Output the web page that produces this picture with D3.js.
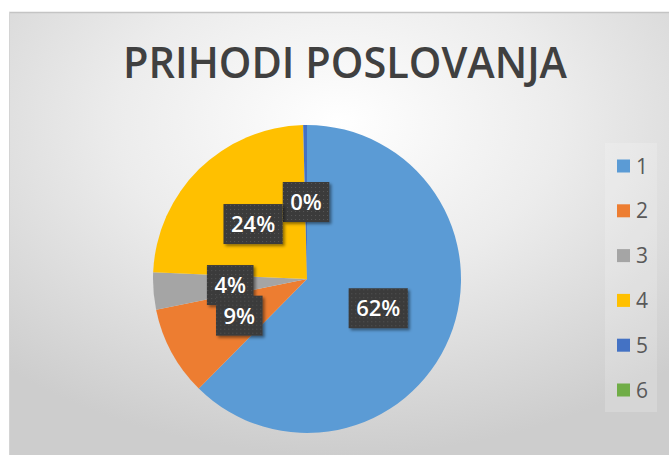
<!DOCTYPE html>
<html>
<head>
<meta charset="utf-8">
<script src="https://cdn.jsdelivr.net/npm/d3@7"></script>
<style>
  html, body { margin: 0; padding: 0; background: #ffffff; }
  svg { display: block; }
</style>
</head>
<body>
<svg id="chart" width="669" height="455"></svg>
<script>
const title = "PRIHODI POSLOVANJA";
const categories = ["1", "2", "3", "4", "5", "6"];
const values = [62.4, 9.4, 3.9, 23.9, 0.4, 0];
const colors = ["#5B9BD5", "#ED7D31", "#A5A5A5", "#FFC000", "#4472C4", "#70AD47"];

const svg = d3.select("#chart");
const W = 669, H = 455;
const defs = svg.append("defs");

// background gradient
const rg = defs.append("radialGradient").attr("id", "bg")
  .attr("cx", "50%").attr("cy", "25%").attr("r", "75%")
  .attr("fx", "50%").attr("fy", "25%");
rg.append("stop").attr("offset", "0%").attr("stop-color", "#ffffff");
rg.append("stop").attr("offset", "45%").attr("stop-color", "#ececec");
rg.append("stop").attr("offset", "100%").attr("stop-color", "#cdcdcd");

// label pattern
const pat = defs.append("pattern").attr("id", "dots")
  .attr("width", 4).attr("height", 4).attr("patternUnits", "userSpaceOnUse");
pat.append("rect").attr("width", 4).attr("height", 4).attr("fill", "#3b3b3b");
pat.append("rect").attr("x", 1).attr("y", 1).attr("width", 1).attr("height", 1).attr("fill", "#555555");

const sh = defs.append("filter").attr("id", "shadow")
  .attr("x", "-20%").attr("y", "-20%").attr("width", "150%").attr("height", "150%");
sh.append("feDropShadow").attr("dx", 2).attr("dy", 2).attr("stdDeviation", 1.5)
  .attr("flood-color", "#000").attr("flood-opacity", 0.45);

// chart area
svg.append("rect").attr("x", 9).attr("y", 12).attr("width", W - 9).attr("height", H - 12)
  .attr("fill", "url(#bg)");
svg.append("line").attr("x1", 9).attr("x2", W).attr("y1", 12.5).attr("y2", 12.5)
  .attr("stroke", "#c4c4c4").attr("stroke-width", 1.5);
svg.append("line").attr("x1", 9.5).attr("x2", 9.5).attr("y1", 12).attr("y2", H)
  .attr("stroke", "#d4d4d4").attr("stroke-width", 1);

// title
const t = svg.append("text").attr("x", 345).attr("y", 78)
  .attr("text-anchor", "middle")
  .attr("font-family", "'Open Sans', sans-serif").attr("font-weight", 600)
  .attr("font-size", 44).attr("fill", "#404040").text(title);
t.attr("textLength", 444).attr("lengthAdjust", "spacingAndGlyphs");

// pie
const cx = 307, cy = 279, R = 154;
const pie = d3.pie().sort(null).value(d => d.v);
const data = pie(categories.map((c, i) => ({ c, v: values[i], i })));
const arc = d3.arc().innerRadius(0).outerRadius(R);
const g = svg.append("g").attr("transform", `translate(${cx},${cy})`);
g.selectAll("path.slice").data(data).enter().append("path")
  .attr("class", "slice")
  .attr("d", arc)
  .attr("fill", d => colors[d.data.i]);

// labels
const total = d3.sum(values);
const labelArc = d3.arc().innerRadius(R * 0.5).outerRadius(R * 0.5);
const labelData = data.filter(d => d.data.v > 0).reverse();
labelData.forEach(d => {
  const [x, y] = labelArc.centroid(d);
  const lg = g.append("g").attr("transform", `translate(${x},${y})`);
  const txt = d3.format(".0%")(d.data.v / total);
  const rect = lg.append("rect").attr("fill", "url(#dots)").attr("filter", "url(#shadow)");
  const tx = lg.append("text").attr("text-anchor", "middle").attr("dy", "0.36em")
    .attr("font-family", "'Open Sans', sans-serif").attr("font-weight", 600)
    .attr("font-size", 22).attr("fill", "#ffffff").text(txt);
  const w = tx.node().getComputedTextLength() + 15;
  const h = 40;
  rect.attr("x", -w / 2).attr("y", -h / 2).attr("width", w).attr("height", h);
});

// legend
svg.append("rect").attr("x", 605).attr("y", 143).attr("width", 52).attr("height", 269)
  .attr("fill", "#ffffff").attr("opacity", 0.18);
const ly0 = 166, lstep = 44.8;
const leg = svg.append("g");
categories.forEach((c, i) => {
  const y = ly0 + i * lstep;
  leg.append("rect").attr("x", 617).attr("y", y - 6.5).attr("width", 13).attr("height", 13)
    .attr("fill", colors[i]);
  leg.append("text").attr("x", 636).attr("y", y).attr("dy", "0.36em")
    .attr("font-family", "'Open Sans', sans-serif").attr("font-size", 21)
    .attr("fill", "#595959").text(c);
});
</script>
</body>
</html>
